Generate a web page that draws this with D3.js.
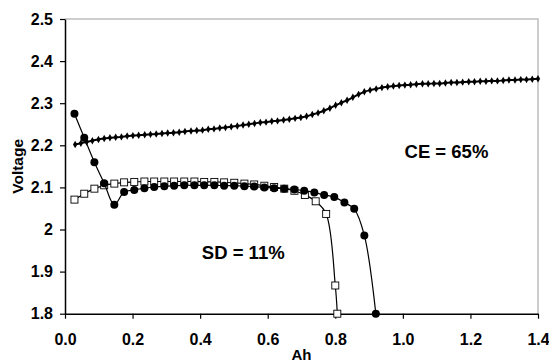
<!DOCTYPE html>
<html>
<head>
<meta charset="utf-8">
<script src="https://cdn.jsdelivr.net/npm/d3@7"></script>
<style>
  body { margin: 0; background: #fff; }
  text { font-family: "Liberation Sans", Arial, sans-serif; font-weight: bold; fill: #000; }
</style>
</head>
<body>
<div id="chart"></div>
<script>
// charge curve (small diamond markers)
const chargeAh = [0.030, 0.047, 0.064, 0.081, 0.099, 0.116, 0.133, 0.150, 0.167, 0.184,
  0.201, 0.218, 0.236, 0.253, 0.270, 0.287, 0.304, 0.321, 0.338, 0.355,
  0.373, 0.390, 0.407, 0.424, 0.441, 0.458, 0.475, 0.492, 0.510, 0.527,
  0.544, 0.561, 0.578, 0.595, 0.612, 0.629, 0.647, 0.664, 0.681, 0.698,
  0.715, 0.732, 0.749, 0.766, 0.784, 0.801, 0.818, 0.835, 0.852, 0.869,
  0.886, 0.903, 0.921, 0.938, 0.955, 0.972, 0.989, 1.006, 1.023, 1.040,
  1.058, 1.075, 1.092, 1.109, 1.126, 1.143, 1.160, 1.177, 1.195, 1.212,
  1.229, 1.246, 1.263, 1.280, 1.297, 1.314, 1.332, 1.349, 1.366, 1.383, 1.400];
const chargeV = [2.202, 2.205, 2.208, 2.211, 2.214, 2.216, 2.218, 2.219, 2.220, 2.222,
  2.223, 2.224, 2.225, 2.226, 2.227, 2.228, 2.229, 2.230, 2.231, 2.233,
  2.234, 2.235, 2.236, 2.238, 2.239, 2.241, 2.242, 2.244, 2.246, 2.248,
  2.250, 2.252, 2.254, 2.255, 2.257, 2.258, 2.260, 2.262, 2.264, 2.266,
  2.269, 2.273, 2.277, 2.282, 2.288, 2.295, 2.301, 2.307, 2.314, 2.321,
  2.327, 2.331, 2.334, 2.337, 2.339, 2.341, 2.342, 2.343, 2.344, 2.345,
  2.346, 2.346, 2.347, 2.347, 2.348, 2.349, 2.349, 2.350, 2.351, 2.351,
  2.352, 2.352, 2.353, 2.353, 2.354, 2.355, 2.355, 2.356, 2.356, 2.357, 2.358];

// discharge, filled circles
const circAh = [0.028, 0.057, 0.087, 0.116, 0.146, 0.175, 0.205, 0.235, 0.264, 0.294,
  0.323, 0.353, 0.383, 0.412, 0.442, 0.471, 0.501, 0.531, 0.560, 0.590,
  0.619, 0.649, 0.679, 0.708, 0.738, 0.767, 0.797, 0.827, 0.856, 0.886, 0.920];
const circV = [2.275, 2.218, 2.160, 2.110, 2.059, 2.089, 2.094, 2.098, 2.101, 2.103,
  2.104, 2.105, 2.105, 2.105, 2.105, 2.104, 2.104, 2.103, 2.102, 2.100,
  2.098, 2.097, 2.095, 2.092, 2.088, 2.082, 2.077, 2.064, 2.049, 1.986, 1.800];

// discharge after stand, open squares
const sqAh = [0.028, 0.057, 0.087, 0.116, 0.146, 0.175, 0.205, 0.235, 0.264, 0.294,
  0.323, 0.353, 0.383, 0.412, 0.442, 0.471, 0.501, 0.531, 0.560, 0.590,
  0.619, 0.649, 0.679, 0.710, 0.742, 0.773, 0.800, 0.806];
const sqV = [2.071, 2.085, 2.097, 2.105, 2.109, 2.112, 2.113, 2.114, 2.114, 2.114,
  2.114, 2.114, 2.114, 2.113, 2.113, 2.112, 2.111, 2.109, 2.107, 2.104,
  2.101, 2.097, 2.092, 2.082, 2.067, 2.037, 1.867, 1.800];

const xTicks = [0, 0.2, 0.4, 0.6, 0.8, 1.0, 1.2, 1.4];
const yTicks = [1.8, 1.9, 2.0, 2.1, 2.2, 2.3, 2.4, 2.5];
const notes = [
  { label: 'CE = 65%', ah: 1.005, v: 2.17 },
  { label: 'SD = 11%', ah: 0.405, v: 1.93 }
];

const W = 549, H = 363;
const margin = { top: 19, right: 11, bottom: 50, left: 65 };

const svg = d3.select('#chart').append('svg')
  .attr('width', W).attr('height', H);

const x = d3.scaleLinear().domain([0, 1.4]).range([margin.left, W - margin.right]);
const y = d3.scaleLinear().domain([1.8, 2.5]).range([H - margin.bottom + 0.7, margin.top]);

// grey frame (top / right)
svg.append('path')
  .attr('d', `M${x(0)},${y(2.5)}H${x(1.4)}V${y(1.8)}`)
  .attr('fill', 'none').attr('stroke', '#bdbdbd').attr('stroke-width', 1.5);

const xAxis = svg.append('g')
  .attr('transform', `translate(0,${y(1.8)})`)
  .call(d3.axisBottom(x).tickValues(xTicks).tickFormat(d3.format('.1f')).tickSize(5).tickSizeOuter(0));
const yAxis = svg.append('g')
  .attr('transform', `translate(${x(0)},0)`)
  .call(d3.axisLeft(y).tickValues(yTicks).tickFormat(d => d === 2 ? '2' : d3.format('.1f')(d)).tickSize(5).tickSizeOuter(0));

[xAxis, yAxis].forEach(g => {
  g.select('.domain').attr('stroke', '#000').attr('stroke-width', 1.5);
  g.selectAll('.tick line').attr('stroke', '#000').attr('stroke-width', 1.2);
  g.selectAll('.tick text')
    .attr('font-size', 16).attr('font-family', '"Liberation Sans", Arial, sans-serif')
    .attr('font-weight', 'bold').attr('fill', '#000');
});
xAxis.selectAll('.tick text').attr('dy', '1.45em');
yAxis.selectAll('.tick text').attr('x', -12);

svg.append('text')
  .attr('transform', `translate(${x(0.7)},${H - 3})`)
  .attr('text-anchor', 'middle').attr('font-size', 15).text('Ah');
svg.append('text')
  .attr('transform', `translate(23,${y(2.15)}) rotate(-90)`)
  .attr('text-anchor', 'middle').attr('font-size', 15.5).text('Voltage');

const line = d3.line().x(d => x(d[0])).y(d => y(d[1])).curve(d3.curveCatmullRom);

const sq = sqAh.map((a, i) => [a, sqV[i]]);
const circ = circAh.map((a, i) => [a, circV[i]]);
const charge = chargeAh.map((a, i) => [a, chargeV[i]]);

// squares
svg.append('path').datum(sq).attr('d', line)
  .attr('fill', 'none').attr('stroke', '#000').attr('stroke-width', 1.2);
svg.append('g').selectAll('rect').data(sq).join('rect')
  .attr('x', d => x(d[0]) - 3.5).attr('y', d => y(d[1]) - 3.5)
  .attr('width', 7).attr('height', 7)
  .attr('fill', '#fff').attr('stroke', '#000').attr('stroke-width', 0.9);

// circles
svg.append('path').datum(circ).attr('d', line)
  .attr('fill', 'none').attr('stroke', '#000').attr('stroke-width', 1.2);
svg.append('g').selectAll('circle').data(circ).join('circle')
  .attr('cx', d => x(d[0])).attr('cy', d => y(d[1])).attr('r', 4)
  .attr('fill', '#000');

// charge
svg.append('path').datum(charge).attr('d', line)
  .attr('fill', 'none').attr('stroke', '#000').attr('stroke-width', 2);
svg.append('g').selectAll('path').data(charge).join('path')
  .attr('transform', d => `translate(${x(d[0])},${y(d[1])})`)
  .attr('d', d3.symbol(d3.symbolDiamond, 16))
  .attr('fill', '#000');

svg.append('g').selectAll('text').data(notes).join('text')
  .attr('x', d => x(d.ah)).attr('y', d => y(d.v))
  .attr('font-size', 18.5).text(d => d.label);
</script>
</body>
</html>
